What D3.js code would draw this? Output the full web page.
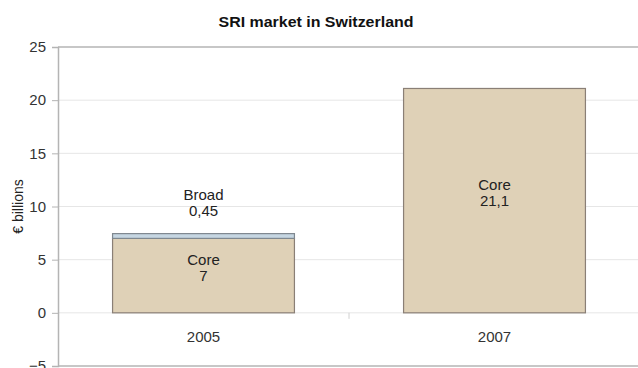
<!DOCTYPE html>
<html><head><meta charset="utf-8">
<script src="https://cdn.jsdelivr.net/npm/d3@7"></script>
<style>body{margin:0;background:#fff}svg{display:block}text{font-family:Arial,"Liberation Sans",sans-serif}</style>
</head><body><svg id="c" width="638" height="368"></svg>
<script>
const years = ["2005", "2007"];
const coreValues = [7, 21.1];
const broadValues = [0.45, 0];
const coreLabels = ["7", "21,1"];
const broadLabels = ["0,45", null];
const yTicks = [-5, 0, 5, 10, 15, 20, 25];

const svg = d3.select("#c");
const m = {l: 58};
const W = 640;
const x = d3.scaleBand().domain(years).range([m.l, W]).paddingInner(0.375).paddingOuter(0.1875);
const y = d3.scaleLinear().domain([-5, 25]).range([366, 47]);

// gridlines
svg.append("g").selectAll("line").data(yTicks.filter(d => d > -5 && d < 25)).join("line")
  .attr("x1", m.l).attr("x2", 638).attr("y1", d => y(d)).attr("y2", d => y(d))
  .attr("stroke", "#e6e6e6").attr("stroke-width", 1);
// frame top & bottom
svg.append("line").attr("x1", m.l).attr("x2", 638).attr("y1", y(25)).attr("y2", y(25)).attr("stroke", "#b4b4b4").attr("stroke-width", 1.5);
svg.append("line").attr("x1", m.l).attr("x2", 638).attr("y1", y(-5)).attr("y2", y(-5)).attr("stroke", "#b4b4b4").attr("stroke-width", 1.5);

// y axis
const ya = svg.append("g").attr("transform", `translate(${m.l},0)`)
  .call(d3.axisLeft(y).tickValues(yTicks).tickSize(6).tickPadding(6));
ya.select(".domain").attr("stroke", "#b4b4b4").attr("stroke-width", 1.5);
ya.selectAll(".tick line").attr("stroke", "#b4b4b4");
ya.selectAll(".tick text").attr("font-size", 15).attr("fill", "#333").attr("font-family", "Arial, 'Liberation Sans', sans-serif");

// x axis category separator tick
const sep = (x("2005") + x.bandwidth() + x("2007")) / 2;
svg.append("line").attr("x1", sep).attr("x2", sep).attr("y1", y(0)).attr("y2", y(0) + 6).attr("stroke", "#d0d0d0");

// bars
const g = svg.append("g");
years.forEach((yr, i) => {
  g.append("rect").attr("x", x(yr)).attr("width", x.bandwidth())
    .attr("y", y(coreValues[i])).attr("height", y(0) - y(coreValues[i]))
    .attr("fill", "#dfd1b7").attr("stroke", "#8a7f76").attr("stroke-width", 1.2);
  if (broadValues[i] > 0) {
    g.append("rect").attr("x", x(yr)).attr("width", x.bandwidth())
      .attr("y", y(coreValues[i] + broadValues[i])).attr("height", y(coreValues[i]) - y(coreValues[i] + broadValues[i]))
      .attr("fill", "#c6d6e2").attr("stroke", "#7f8890").attr("stroke-width", 1.2);
  }
});

// labels
const fs = 15;
years.forEach((yr, i) => {
  const cx = x(yr) + x.bandwidth() / 2;
  const coreY = coreValues[i] > 15 ? y(11.55) : y(4.5);
  svg.append("text").attr("x", cx).attr("y", coreY).attr("text-anchor", "middle").attr("font-size", fs).attr("fill", "#222").text("Core");
  svg.append("text").attr("x", cx).attr("y", coreY + 16).attr("text-anchor", "middle").attr("font-size", fs).attr("fill", "#222").text(coreLabels[i]);
  if (broadLabels[i]) {
    svg.append("text").attr("x", cx).attr("y", y(10.6)).attr("text-anchor", "middle").attr("font-size", fs).attr("fill", "#222").text("Broad");
    svg.append("text").attr("x", cx).attr("y", y(10.6) + 16).attr("text-anchor", "middle").attr("font-size", fs).attr("fill", "#222").text(broadLabels[i]);
  }
  svg.append("text").attr("x", cx).attr("y", 342).attr("text-anchor", "middle").attr("font-size", fs).attr("fill", "#333").text(yr);
});

// title
svg.append("text").attr("x", 316).attr("y", 27).attr("text-anchor", "middle").attr("font-size", 14).attr("font-weight", "bold").attr("fill", "#111")
  .attr("textLength", 195).attr("lengthAdjust", "spacingAndGlyphs").text("SRI market in Switzerland");
// y label
svg.append("text").attr("transform", `translate(23,${y(10)}) rotate(-90)`).attr("text-anchor", "middle").attr("font-size", 14).attr("fill", "#222").text("€ billions");
</script></body></html>
